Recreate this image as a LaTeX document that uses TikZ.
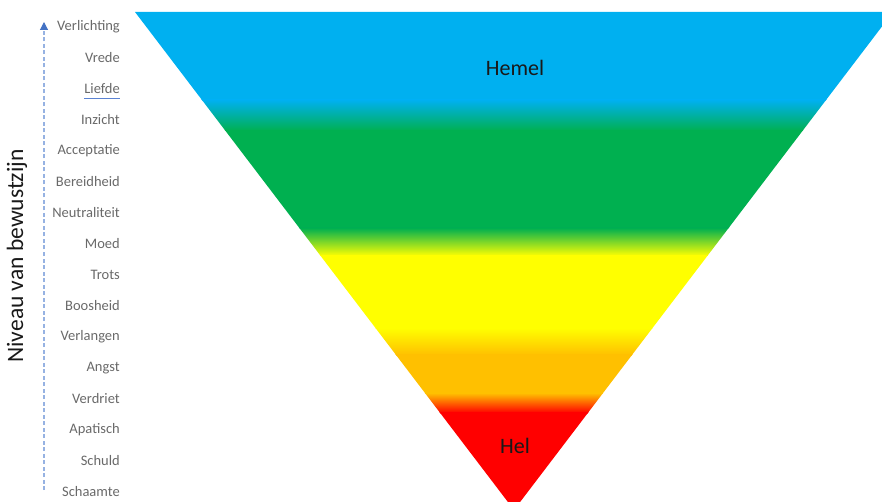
\documentclass[tikz,border=0pt]{standalone}
\usepackage{fontspec}
\setmainfont{Carlito}
\usetikzlibrary{arrows.meta}
\definecolor{cblue}{RGB}{0,176,240}
\definecolor{cgreen}{RGB}{0,176,80}
\definecolor{cyellow}{RGB}{255,255,0}
\definecolor{corange}{RGB}{255,192,0}
\definecolor{cred}{RGB}{255,0,0}
\definecolor{lblgray}{RGB}{105,105,105}
\definecolor{arrblue}{RGB}{150,178,226}
\definecolor{tipblue}{RGB}{68,114,196}
\definecolor{ulblue}{RGB}{90,130,210}
\tikzset{
  lbl/.style={anchor=east, text=lblgray, font=\fontsize{14.5}{16}\selectfont, inner sep=0pt},
  big/.style={font=\fontsize{22}{24}\selectfont, text=black!90, inner sep=0pt},
}
\begin{document}
\begin{tikzpicture}[x=1pt,y=-1pt]
\useasboundingbox (0,0) rectangle (882,502);
\begin{scope}
\clip (0,0) rectangle (882,502);
\clip (135,12) -- (893,12) -- (514,510) -- cycle;
\fill[cblue] (100,0) rectangle (900,101);
\shade[top color=cblue, bottom color=cgreen] (100,100) rectangle (900,131);
\fill[cgreen] (100,130) rectangle (900,229);
\shade[top color=cgreen, bottom color=cyellow] (100,228) rectangle (900,256);
\fill[cyellow] (100,255) rectangle (900,329);
\shade[top color=cyellow, bottom color=corange] (100,328) rectangle (900,355);
\fill[corange] (100,354) rectangle (900,394);
\shade[top color=corange, bottom color=cred] (100,393) rectangle (900,413);
\fill[cred] (100,412) rectangle (900,520);
\end{scope}
\node[big] (hemel) at (515,68) {Hemel};
\node[big] (hel) at (515,446) {Hel};
\node[big, font=\fontsize{23.5}{25}\selectfont, rotate=90] (axis) at (17,256) {Niveau van bewustzijn};
\foreach \t [count=\i from 0] in {Verlichting,Vrede,Liefde,Inzicht,Acceptatie,Bereidheid,Neutraliteit,Moed,Trots,Boosheid,Verlangen,Angst,Verdriet,Apatisch,Schuld,Schaamte}
  \node[lbl] (l\i) at (120,{27+31*\i}) {\t};
\draw[ulblue, line width=1pt] ([yshift=-4pt]l2.south west) -- ([yshift=-4pt]l2.south east);
\coordinate (abot) at (44,490);
\coordinate (atop) at (44,22);
\draw[arrblue, line width=1.1pt, dash pattern=on 4pt off 2.5pt, -{Triangle[length=8pt,width=8pt,fill=tipblue,color=tipblue]}] (abot) -- (atop);
\end{tikzpicture}
\end{document}
